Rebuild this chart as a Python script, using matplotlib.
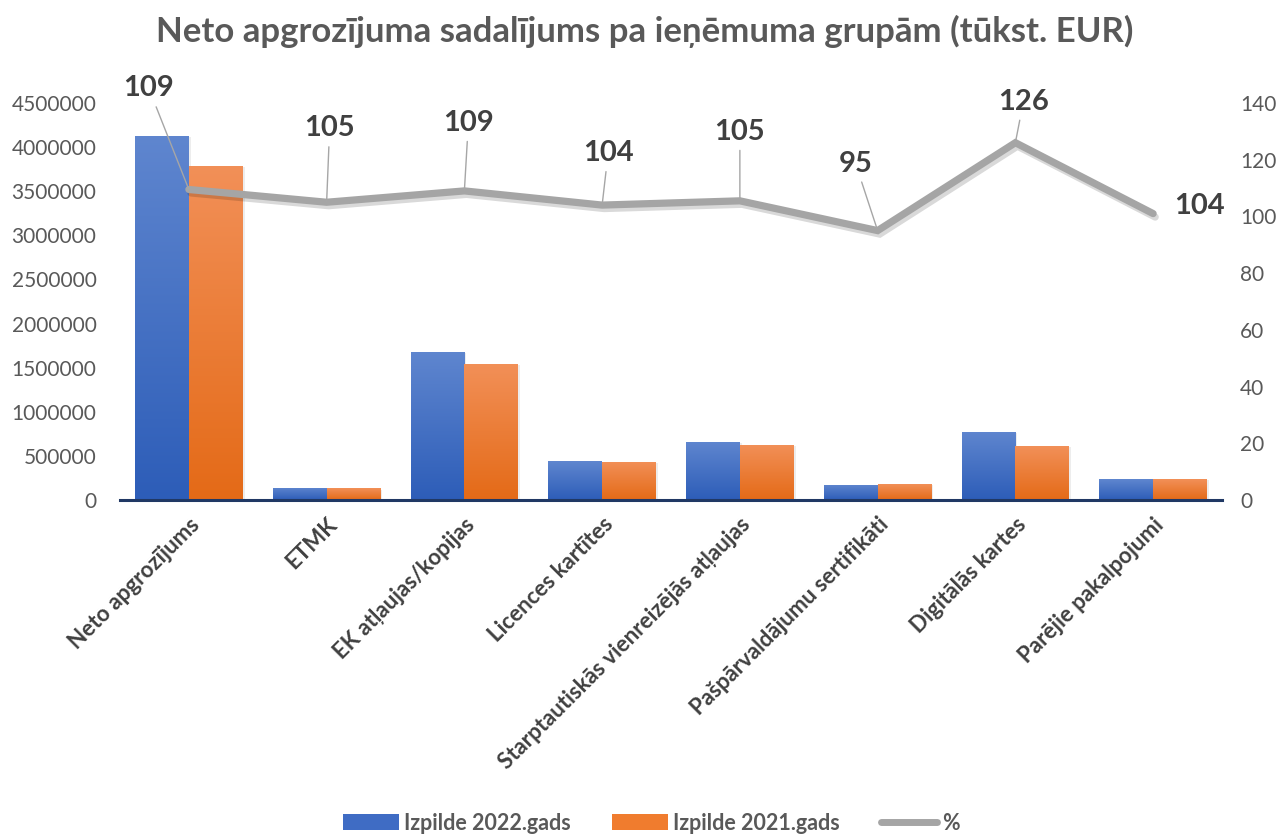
import matplotlib
matplotlib.use("Agg")
import matplotlib.pyplot as plt
import matplotlib.patheffects as pe
from matplotlib.lines import Line2D
from matplotlib.patches import Patch
import numpy as np

plt.rcParams["font.family"] = ["Lato", "DejaVu Sans"]

categories = ["Neto apgrozījums", "ETMK", "EK atļaujas/kopijas", "Licences kartītes",
              "Starptautiskās vienreizējās atļaujas", "Pašpārvaldājumu sertifikāti",
              "Digitālās kartes", "Parējie pakalpojumi"]
izpilde_2022 = [4127000, 140000, 1678000, 442000, 658000, 172000, 771000, 238000]
izpilde_2021 = [3787000, 133000, 1542000, 431000, 624000, 181000, 612000, 238000]
pct = [109.5, 105, 109, 104, 105.5, 95, 126, 101]
pct_labels = ["109", "105", "109", "104", "105", "95", "126", "104"]
# label offsets from the line point, in pixels
label_offsets = [(-40, 101), (3, 74), (4, 68), (6, 52), (0, 69), (-22, 67), (8, 41), (46, 8)]

GRAY_TXT = "#595959"
DARK_TXT = "#404040"
BLUE = ("#5F86CF", "#2D5DB8")
ORANGE = ("#F29058", "#E46A17")


def gradient_bars(ax, bars, colors):
    top = np.array(matplotlib.colors.to_rgb(colors[0]))
    bot = np.array(matplotlib.colors.to_rgb(colors[1]))
    grad = np.linspace(0, 1, 256)[:, None]
    img = top[None, None, :] * (1 - grad[..., None]) + bot[None, None, :] * grad[..., None]
    for b in bars:
        x0, y0 = b.get_x(), b.get_y()
        w, h = b.get_width(), b.get_height()
        b.set_facecolor("none")
        b.set_path_effects([pe.SimplePatchShadow(offset=(1.5, -1), shadow_rgbFace="#000000", alpha=0.07),
                            pe.Normal()])
        im = ax.imshow(img, extent=(x0, x0 + w, y0, y0 + h), aspect="auto", zorder=2,
                       interpolation="bilinear")
        im.set_clip_path(b)


fig = plt.figure(figsize=(12.85, 8.34), dpi=100)
ax = fig.add_axes([120 / 1285, 334 / 834, 1102 / 1285, 397 / 834])
x = np.arange(len(categories))
w = 0.39

b1 = ax.bar(x - w / 2, izpilde_2022, w, zorder=2, linewidth=0)
b2 = ax.bar(x + w / 2, izpilde_2021, w, zorder=2, linewidth=0)
ax.set_xlim(-0.5, len(categories) - 0.5)
ax.set_ylim(0, 4500000)
gradient_bars(ax, b1, BLUE)
gradient_bars(ax, b2, ORANGE)

ax.set_yticks(np.arange(0, 4500001, 500000))
ax.set_yticklabels([f"{int(v)}" for v in np.arange(0, 4500001, 500000)])
ax.set_xticks(x)
ax.set_xticklabels(categories, rotation=45, ha="right", rotation_mode="anchor",
                   fontsize=16, fontweight="bold", color=DARK_TXT)
ax.tick_params(axis="x", length=0, pad=10)
ax.tick_params(axis="y", length=0, labelsize=15, labelcolor=GRAY_TXT, pad=17)
for s in ["top", "right", "left"]:
    ax.spines[s].set_visible(False)
ax.spines["bottom"].set_color("#203864")
ax.spines["bottom"].set_linewidth(2.2)
ax.spines["bottom"].set_zorder(5)

ax2 = ax.twinx()
ax2.set_ylim(0, 140)
ax2.set_yticks(np.arange(0, 141, 20))
ax2.tick_params(axis="y", length=0, labelsize=15, labelcolor=GRAY_TXT, pad=13)
for s in ["top", "right", "left", "bottom"]:
    ax2.spines[s].set_visible(False)

ax2.plot(x, pct, color="#A5A5A5", lw=5.2, solid_capstyle="round", solid_joinstyle="miter",
         zorder=3,
         path_effects=[pe.SimpleLineShadow(offset=(1.5, -2.5), shadow_color="#000000", alpha=0.15),
                       pe.Normal()])

for xi, yi, lab, (dx, dy) in zip(x, pct, pct_labels, label_offsets):
    arrow = dict(arrowstyle="-", color="#A6A6A6", lw=1.0, shrinkA=2, shrinkB=0) if dy > 20 else None
    ax2.annotate(lab, xy=(xi, yi), xytext=(dx, dy), textcoords="offset pixels",
                 ha="center", va="center", fontsize=21, fontweight="bold", color=DARK_TXT,
                 arrowprops=arrow, zorder=6)

fig.text(0.502, 1 - 31 / 834, "Neto apgrozījuma sadalījums pa ieņēmuma grupām (tūkst. EUR)",
         ha="center", va="center", fontsize=25, fontweight="bold", color=GRAY_TXT)

handles = [Patch(facecolor="#3F6CC4", label="Izpilde 2022.gads"),
           Patch(facecolor="#F07C2E", label="Izpilde 2021.gads"),
           Line2D([0], [0], color="#A5A5A5", lw=5, solid_capstyle="round", label="%")]
leg = fig.legend(handles=handles, loc="center", bbox_to_anchor=(0.507, 1 - 823 / 834), ncol=3,
                 frameon=False, handlelength=2.6, handleheight=0.8, columnspacing=1.9,
                 handletextpad=0.25, prop={"weight": "bold", "size": 15.5})
for t in leg.get_texts():
    t.set_color(GRAY_TXT)

fig.savefig("out.png", dpi=100)
